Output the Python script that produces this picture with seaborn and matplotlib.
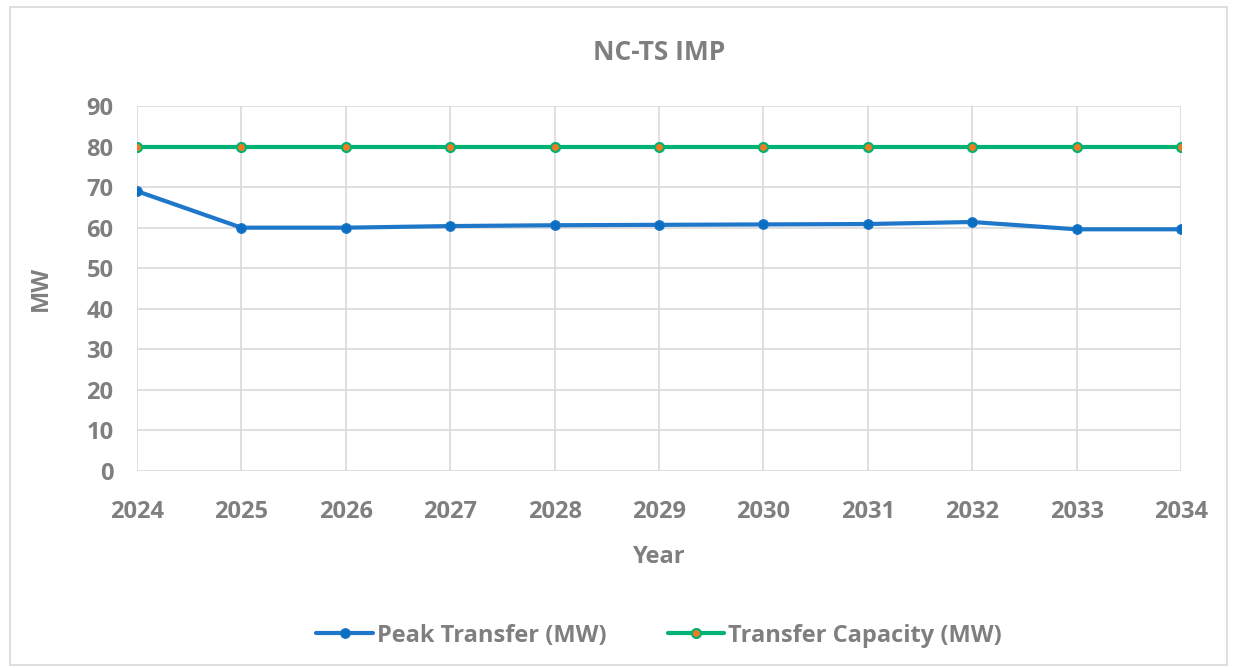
import matplotlib
matplotlib.use("Agg")
import matplotlib.pyplot as plt
import seaborn as sns
import pandas as pd

years = [2024, 2025, 2026, 2027, 2028, 2029, 2030, 2031, 2032, 2033, 2034]
peak_transfer = [69.0, 60.0, 60.0, 60.4, 60.6, 60.7, 60.8, 60.9, 61.4, 59.6, 59.6]
transfer_capacity = [80, 80, 80, 80, 80, 80, 80, 80, 80, 80, 80]

df = pd.DataFrame({"Year": years,
                   "Peak Transfer (MW)": peak_transfer,
                   "Transfer Capacity (MW)": transfer_capacity})

sns.set_style("white")
plt.rcParams['font.family'] = ['Open Sans', 'DejaVu Sans']
text_color = '#7f7f7f'

fig = plt.figure(figsize=(12.37, 6.68), dpi=100)
ax = fig.add_axes([0.1108, 0.2949, 0.8439, 0.5464])

sns.lineplot(data=df, x="Year", y="Peak Transfer (MW)", ax=ax, color='#1f77c9',
             linewidth=3, marker='o', markersize=7, markeredgecolor='#1f77c9',
             markerfacecolor='#0a6fc2', label="Peak Transfer (MW)", zorder=3)
sns.lineplot(data=df, x="Year", y="Transfer Capacity (MW)", ax=ax, color='#00b274',
             linewidth=3, marker='o', markersize=6.5, markeredgecolor='#00b274',
             markeredgewidth=1.5, markerfacecolor='#f07a22',
             label="Transfer Capacity (MW)", zorder=3)

ax.set_xlim(2024, 2034)
ax.set_ylim(0, 90)
ax.set_xticks(years)
ax.set_yticks(range(0, 91, 10))
ax.grid(True, color='#d9d9d9', linewidth=1.2)
for s in ax.spines.values():
    s.set_visible(False)
ax.tick_params(axis='x', length=0, labelsize=17, labelcolor=text_color, pad=21)
ax.tick_params(axis='y', length=0, labelsize=17, labelcolor=text_color, pad=17)
for lbl in ax.get_xticklabels() + ax.get_yticklabels():
    lbl.set_fontweight('bold')

ax.set_title("NC-TS IMP", fontsize=19, fontweight='bold', color=text_color, pad=33)
ax.set_xlabel("Year", fontsize=17, fontweight='bold', color=text_color, labelpad=15)
ax.set_ylabel("MW", fontsize=17, fontweight='bold', color=text_color, labelpad=24)

leg = ax.legend(loc='upper center', bbox_to_anchor=(0.5, -0.36), ncol=2, frameon=False,
                fontsize=17, handlelength=2.4, columnspacing=2.6, handletextpad=0.15)
for t in leg.get_texts():
    t.set_color(text_color)
    t.set_fontweight('bold')

fig.patches.append(plt.Rectangle((0.008, 0.005), 0.984, 0.985, transform=fig.transFigure,
                                 fill=False, edgecolor='#d9d9d9', linewidth=1.2))

fig.savefig("out.png", dpi=100)
